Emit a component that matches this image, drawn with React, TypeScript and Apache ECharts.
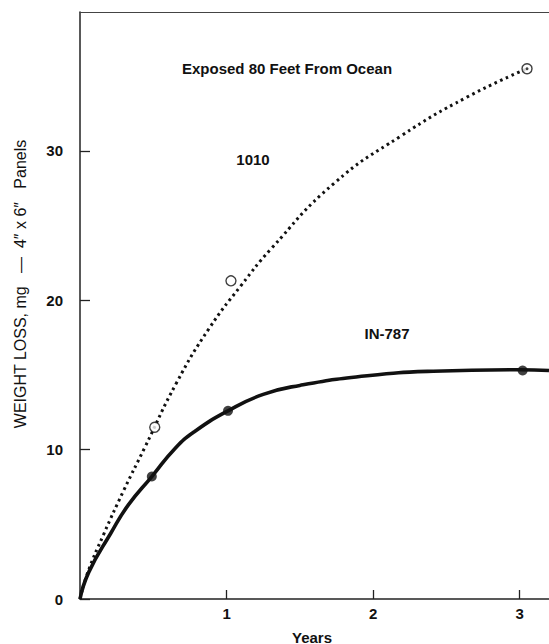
import React, { useEffect, useRef } from "react";
import * as echarts from "echarts";

// Curve traced through the 1010 coating (dotted)
const curve1010: [number, number][] = [
  [0, 0], [0.05, 1.7], [0.16, 4.3], [0.3, 7.3], [0.44, 10.1], [0.66, 14.5],
  [0.88, 18.1], [1.1, 21.0], [1.3, 23.4], [1.73, 27.8], [2.19, 31.0],
  [2.64, 33.6], [3.05, 35.5],
];
// Curve traced through IN-787 (solid)
const curveIN787: [number, number][] = [
  [0, 0], [0.06, 1.8], [0.21, 4.4], [0.33, 6.3], [0.49, 8.2], [0.65, 10.1],
  [0.78, 11.2], [1.01, 12.6], [1.25, 13.7], [1.5, 14.3], [1.96, 14.95],
  [2.41, 15.25], [3.0, 15.35], [3.2, 15.3],
];
// Observed points
const obs1010: [number, number][] = [[0.51, 11.5], [1.03, 21.3], [3.05, 35.5]];
const obsIN787: [number, number][] = [[0.49, 8.2], [1.01, 12.6], [3.02, 15.3]];

const yTicks = [0, 10, 20, 30];
const xTicks = [1, 2, 3];

const FONT = "'Liberation Sans', Arial, Helvetica, sans-serif";

export default function App() {
  const ref = useRef<HTMLDivElement>(null);
  useEffect(() => {
    if (!ref.current) return;
    const chart = echarts.init(ref.current, undefined, { renderer: "svg" });
    const ink = "#111";
    chart.setOption({
      animation: false,
      backgroundColor: "#fff",
      grid: { left: 80, right: 0, top: 12, bottom: 45, containLabel: false },
      xAxis: [
        {
          type: "value",
          min: 0,
          max: 3.2,
          interval: 1,
          axisLine: { show: true, lineStyle: { color: "#222", width: 1.5 } },
          axisTick: { show: true, inside: true, length: 9, lineStyle: { color: "#222", width: 1.3 } },
          axisLabel: {
            show: true,
            margin: 7,
            color: ink,
            fontFamily: FONT,
            fontWeight: "bold",
            fontSize: 15,
            showMaxLabel: false,
            formatter: (v: number) => (xTicks.includes(v) ? String(v) : ""),
          },
          splitLine: { show: false },
        },
        {
          type: "value",
          position: "top",
          min: 0,
          max: 3.2,
          axisLine: { show: true, onZero: false, lineStyle: { color: "#444", width: 1.2 } },
          axisTick: { show: false },
          axisLabel: { show: false },
          splitLine: { show: false },
        },
      ],
      yAxis: {
        type: "value",
        min: 0,
        max: 39.3,
        interval: 10,
        axisLine: { show: true, lineStyle: { color: "#222", width: 1.5 } },
        axisTick: { show: true, inside: true, length: 10, lineStyle: { color: "#222", width: 1.3 } },
        axisLabel: {
          show: true,
          margin: 17,
          color: ink,
          fontFamily: FONT,
          fontWeight: "bold",
          fontSize: 15,
          showMaxLabel: false,
          formatter: (v: number) => (yTicks.includes(v) ? String(v) : ""),
        },
        splitLine: { show: false },
      },
      series: [
        {
          type: "line",
          name: "1010 curve",
          data: curve1010,
          smooth: 0.5,
          symbol: "none",
          lineStyle: { color: ink, width: 3, type: [2.6, 3.6], cap: "butt" },
          z: 2,
        },
        {
          type: "line",
          name: "IN-787 curve",
          data: curveIN787,
          smooth: 0.5,
          symbol: "none",
          lineStyle: { color: ink, width: 3.6 },
          z: 2,
        },
        {
          type: "scatter",
          name: "1010",
          data: obs1010,
          symbol: "circle",
          symbolSize: 10,
          itemStyle: { color: "#fff", borderColor: ink, borderWidth: 1.4 },
          z: 3,
        },
        {
          type: "scatter",
          name: "1010 center",
          data: [obs1010[2]],
          symbol: "circle",
          symbolSize: 3,
          itemStyle: { color: ink },
          z: 4,
        },
        {
          type: "scatter",
          name: "IN-787",
          data: obsIN787,
          symbol: "circle",
          symbolSize: 10,
          itemStyle: { color: ink },
          z: 3,
        },
      ],
      graphic: [
        {
          type: "text",
          x: 287,
          y: 68,
          style: {
            text: "Exposed 80 Feet From Ocean",
            fill: ink,
            font: `bold 15px ${FONT}`,
            align: "center",
            verticalAlign: "middle",
          },
        },
        {
          type: "text",
          x: 253,
          y: 159,
          style: { text: "1010", fill: ink, font: `bold 15px ${FONT}`, align: "center", verticalAlign: "middle" },
        },
        {
          type: "text",
          x: 387,
          y: 333,
          style: { text: "IN-787", fill: ink, font: `bold 15px ${FONT}`, align: "center", verticalAlign: "middle" },
        },
        {
          type: "text",
          x: 312,
          y: 637,
          style: { text: "Years", fill: ink, font: `bold 15px ${FONT}`, align: "center", verticalAlign: "middle" },
        },
        {
          type: "text",
          x: 20,
          y: 284,
          rotation: Math.PI / 2,
          style: {
            text: "WEIGHT LOSS, mg   \u2014  4\u2033 x 6\u2033   Panels",
            fill: ink,
            font: `16px ${FONT}`,
            align: "center",
            verticalAlign: "middle",
          },
        },
      ],
    });
    return () => chart.dispose();
  }, []);
  return (
    <div
      ref={ref}
      style={{ position: "fixed", left: 0, top: 0, width: 549, height: 644, background: "#fff" }}
    />
  );
}
